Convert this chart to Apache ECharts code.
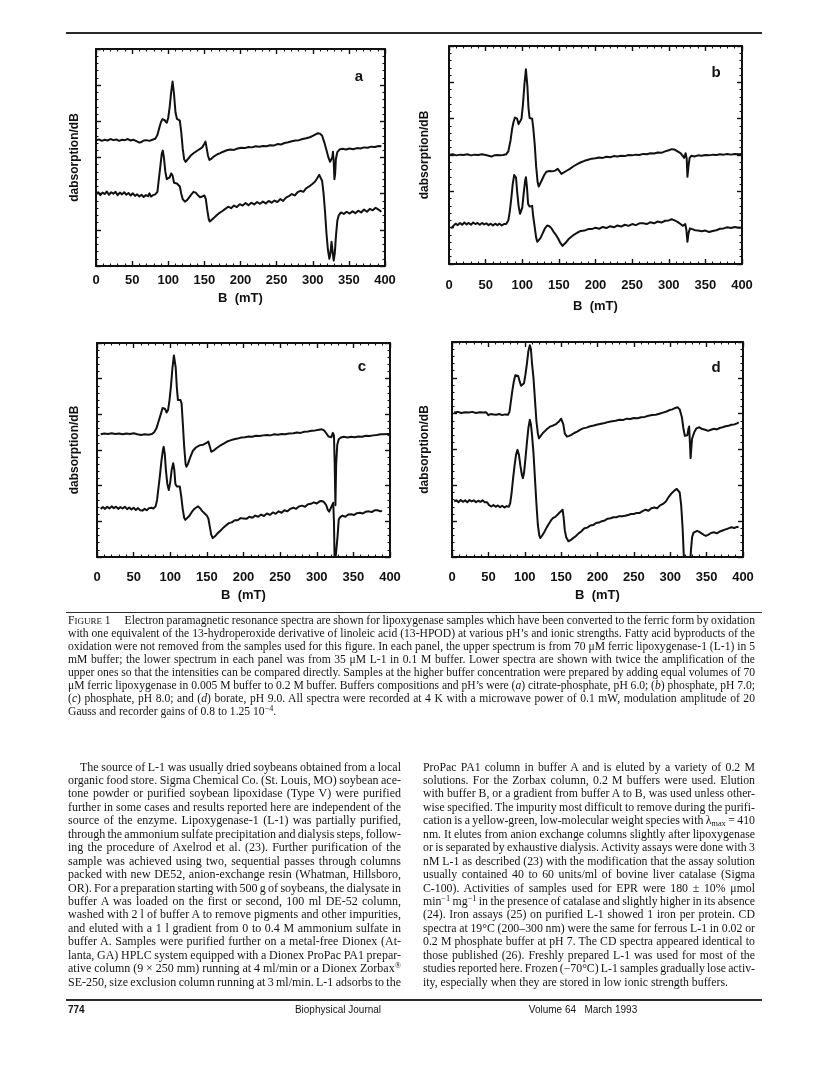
<!DOCTYPE html>
<html><head><meta charset="utf-8">
<script src="https://cdn.jsdelivr.net/npm/echarts/dist/echarts.min.js"></script>
<style>
html,body{margin:0;padding:0;background:#fff;}
#page{position:relative;width:816px;height:1076px;overflow:hidden;background:#fff;}
#chart{position:absolute;left:0;top:0;width:816px;height:1076px;}
.ln{position:absolute;white-space:pre;font-family:"Liberation Serif","Times New Roman",serif;color:#141414;line-height:16px;}
.ln sup{font-size:0.7em;vertical-align:0.45em;line-height:0;}
.ln sub{font-size:0.7em;vertical-align:-0.25em;line-height:0;}
.sc{font-size:0.78em;}
.gap{display:inline-block;width:14px;}
.rule{position:absolute;background:#2a2a2a;}
.ft{position:absolute;font-family:"Liberation Sans",Arial,sans-serif;font-size:10px;color:#141414;line-height:12px;white-space:pre;}
</style>
</head><body>
<div id="page"><div id="chart"></div></div>
<script>
// ---------------- DATA (B in mT, signal in arbitrary units, frame spans 0..6) ----------------
const xTicks = [0, 50, 100, 150, 200, 250, 300, 350, 400];

const aUpper = [[0,3.47],[4,3.50],[8,3.46],[12,3.49],[16,3.47],[20,3.51],[24,3.48],[28,3.50],[32,3.46],[36,3.49],[40,3.48],[44,3.51],[48,3.47],[52,3.49],[56,3.45],[60,3.41],[63,3.43],[66,3.47],[70,3.48],[74,3.46],[78,3.49],[82,3.52],[85,3.62],[88,3.85],[90,3.98],[92,4.06],[95,4.03],[98,3.96],[100,4.10],[102,4.40],[104,4.80],[106,5.10],[108,4.75],[110,4.25],[112,4.07],[114,4.10],[116,4.02],[118,3.70],[120,3.25],[122,2.95],[124,2.88],[126,2.92],[129,3.00],[132,3.07],[135,3.12],[138,3.16],[141,3.20],[144,3.24],[147,3.28],[150,3.38],[151.5,3.44],[153,3.28],[155,3.05],[157,2.93],[160,2.97],[164,3.04],[168,3.09],[172,3.12],[176,3.16],[181,3.20],[186,3.22],[191,3.21],[196,3.25],[201,3.27],[206,3.26],[211,3.29],[216,3.28],[221,3.31],[226,3.30],[231,3.32],[236,3.31],[241,3.34],[246,3.33],[251,3.37],[256,3.36],[261,3.40],[266,3.42],[271,3.45],[276,3.47],[281,3.48],[286,3.51],[291,3.53],[296,3.56],[300,3.60],[304,3.64],[307,3.67],[310,3.66],[313,3.60],[316,3.42],[319,3.20],[322,2.98],[324,2.88],[326,2.84],[327,3.00],[328,3.16],[329,2.90],[330,2.40],[331,2.55],[332,2.95],[334,3.15],[337,3.22],[341,3.24],[346,3.22],[351,3.25],[356,3.23],[361,3.26],[366,3.25],[371,3.28],[376,3.27],[381,3.30],[386,3.29],[391,3.32],[395,3.31]];

const aLower = [[0,1.98],[3,2.04],[6,1.96],[9,2.03],[12,1.99],[15,2.06],[18,1.97],[21,2.04],[24,2.00],[27,2.05],[30,1.96],[33,2.03],[36,1.98],[39,2.04],[42,1.97],[45,2.02],[48,1.95],[51,2.01],[54,1.94],[57,1.98],[60,1.92],[63,1.97],[66,1.91],[69,1.96],[72,1.93],[74,2.01],[76,1.92],[79,1.96],[82,1.98],[85,2.05],[87,2.40],[89,2.75],[91,3.10],[92.5,3.19],[94,3.00],[96,2.60],[98,2.40],[100,2.38],[102,2.45],[104,2.56],[106,2.50],[108,2.30],[110,2.25],[112,2.28],[114,2.30],[116,2.20],[118,2.00],[120,1.85],[123,1.78],[126,1.82],[129,1.90],[132,1.98],[135,2.05],[138,2.03],[141,1.96],[144,1.90],[147,1.92],[150,1.95],[152,1.85],[154,1.55],[156,1.30],[157.5,1.23],[160,1.27],[163,1.33],[167,1.40],[171,1.47],[175,1.52],[179,1.58],[183,1.64],[187,1.60],[191,1.67],[195,1.63],[199,1.71],[203,1.67],[207,1.74],[211,1.68],[215,1.75],[219,1.70],[223,1.77],[227,1.72],[231,1.78],[235,1.73],[239,1.80],[243,1.75],[247,1.81],[251,1.77],[255,1.85],[259,1.80],[263,1.89],[267,1.93],[271,1.99],[275,1.95],[279,2.04],[283,2.08],[287,2.05],[291,2.15],[295,2.20],[299,2.26],[303,2.33],[306,2.42],[309,2.52],[311,2.49],[313,2.35],[315,2.00],[317,1.50],[319,0.90],[321,0.45],[323,0.20],[324.5,0.35],[326,0.67],[327.5,0.40],[329,0.15],[330.5,0.35],[332,0.80],[334,1.25],[336,1.40],[339,1.48],[343,1.44],[347,1.50],[351,1.45],[355,1.51],[359,1.46],[363,1.53],[367,1.48],[371,1.56],[375,1.50],[379,1.58],[383,1.54],[387,1.61],[391,1.56],[395,1.50]];

const bUpper = [[0,3.00],[5,3.02],[10,2.99],[15,3.01],[20,3.00],[25,3.02],[30,2.99],[35,3.01],[40,3.00],[45,3.02],[50,3.00],[54,2.98],[58,2.96],[62,2.99],[66,3.00],[70,2.99],[74,3.00],[78,3.02],[81,3.10],[84,3.40],[86,3.70],[88,3.90],[90,4.03],[91.5,4.06],[93,4.00],[95,3.85],[97,3.80],[99,4.00],[101,4.40],[103,4.95],[105,5.36],[107,4.90],[108.5,4.30],[110,4.02],[112,4.05],[113.5,4.00],[115,3.75],[117,3.30],[119,2.68],[121,2.25],[122.5,2.13],[124,2.18],[127,2.32],[130,2.45],[133,2.54],[137,2.56],[141,2.55],[145,2.57],[148.5,2.62],[151,2.55],[153.5,2.48],[156,2.52],[160,2.56],[165,2.62],[170,2.69],[175,2.75],[180,2.80],[185,2.84],[190,2.87],[195,2.90],[200,2.91],[205,2.93],[210,2.92],[215,2.95],[220,2.94],[225,2.97],[230,2.96],[235,2.98],[240,2.97],[245,3.00],[250,2.99],[255,3.01],[260,3.00],[265,3.03],[270,3.02],[275,3.05],[280,3.04],[285,3.07],[290,3.06],[295,3.10],[300,3.13],[304,3.16],[308,3.15],[312,3.10],[316,3.05],[319,2.98],[321,2.92],[323,3.05],[324.5,2.90],[325.5,2.40],[327,2.70],[328.5,2.92],[331,2.98],[335,2.96],[340,2.99],[345,2.98],[350,3.00],[355,2.99],[360,3.01],[365,3.00],[370,3.02],[375,3.01],[380,3.03],[385,3.01],[390,3.03],[395,3.02],[400,3.03]];

const bLower = [[3,0.98],[6,1.05],[9,1.11],[12,1.07],[15,1.13],[18,1.08],[21,1.14],[24,1.09],[27,1.13],[30,1.08],[33,1.14],[36,1.10],[39,1.13],[42,1.08],[45,1.13],[48,1.09],[51,1.12],[54,1.07],[57,1.11],[60,1.06],[63,1.11],[66,1.07],[69,1.11],[72,1.06],[75,1.10],[78,1.10],[81,1.20],[83,1.45],[85,1.80],[87,2.20],[89,2.45],[90,2.50],[91.5,2.38],[93,2.00],[95,1.60],[97,1.38],[98.5,1.35],[100,1.55],[102,1.95],[104,2.30],[105,2.39],[106.5,2.10],[108,1.65],[110,1.58],[112,1.62],[113.5,1.60],[115,1.30],[117,1.02],[119,0.72],[120.5,0.61],[122,0.63],[125,0.72],[128,0.85],[131,0.98],[134,1.06],[137,1.04],[140,0.98],[143,0.88],[146,0.80],[149,0.70],[152,0.58],[155,0.50],[157,0.52],[160,0.60],[163,0.68],[167,0.75],[171,0.81],[175,0.86],[180,0.91],[185,0.92],[190,0.96],[195,0.96],[200,1.00],[205,0.97],[210,1.02],[215,0.99],[220,1.04],[225,1.01],[230,1.06],[235,1.03],[240,1.08],[245,1.05],[250,1.10],[255,1.07],[260,1.12],[265,1.12],[270,1.10],[275,1.15],[280,1.12],[285,1.17],[290,1.14],[295,1.19],[300,1.20],[304,1.23],[308,1.20],[312,1.16],[316,1.10],[319,1.05],[321,1.02],[322.5,1.10],[324,0.95],[325.5,0.61],[327,0.85],[329,0.98],[332,0.96],[336,0.93],[340,0.92],[345,0.90],[350,0.92],[355,0.88],[360,0.91],[365,0.93],[370,0.97],[375,0.98],[380,1.01],[385,0.99],[390,1.02],[395,1.00],[400,1.00]];

const cUpper = [[5,3.44],[10,3.46],[15,3.45],[20,3.47],[25,3.45],[30,3.46],[35,3.44],[40,3.46],[45,3.45],[50,3.47],[55,3.44],[60,3.42],[65,3.44],[70,3.43],[75,3.45],[78,3.50],[81,3.60],[84,3.80],[87,4.00],[89.5,4.18],[91,4.23],[93,4.15],[95,4.05],[97,4.12],[99,4.40],[101,4.80],[103,5.30],[105,5.65],[106,5.70],[107.5,5.30],[109,4.75],[110.5,4.40],[112,4.38],[114,4.40],[115.5,4.30],[117,3.80],[119,3.10],[121,2.60],[122,2.53],[124,2.60],[127,2.78],[131,2.98],[135,3.07],[140,3.13],[145,3.15],[149,3.19],[152,3.24],[154,3.10],[156,2.95],[159,2.98],[163,3.05],[168,3.12],[173,3.18],[177,3.23],[182,3.27],[187,3.30],[192,3.32],[197,3.35],[202,3.36],[207,3.38],[212,3.37],[217,3.40],[222,3.39],[227,3.41],[232,3.42],[237,3.41],[242,3.44],[247,3.43],[252,3.45],[257,3.44],[262,3.46],[268,3.47],[273,3.49],[278,3.48],[283,3.51],[288,3.52],[293,3.54],[298,3.55],[303,3.57],[307,3.58],[310,3.55],[313,3.47],[316,3.38],[318,3.33],[320,3.36],[322,3.48],[323.5,3.40],[324.5,2.60],[325.5,1.45],[326.5,2.60],[328,3.15],[330,3.30],[333,3.35],[337,3.37],[342,3.35],[347,3.37],[352,3.36],[357,3.38],[362,3.37],[367,3.40],[372,3.39],[377,3.41],[382,3.42],[387,3.44],[392,3.44],[397,3.45],[400,3.45]];

const cLower = [[5,1.35],[8,1.40],[11,1.35],[14,1.41],[17,1.36],[20,1.42],[23,1.37],[26,1.41],[29,1.35],[32,1.40],[35,1.36],[38,1.41],[41,1.34],[44,1.39],[47,1.33],[50,1.38],[53,1.32],[56,1.37],[59,1.31],[62,1.30],[65,1.35],[68,1.31],[71,1.37],[74,1.38],[77,1.36],[80,1.42],[82,1.60],[84,1.95],[86,2.30],[88,2.70],[90,3.00],[91,3.09],[92.5,2.90],[94,2.45],[96,2.05],[98,1.88],[100,2.10],[102,2.45],[104,2.63],[105.5,2.45],[107,2.05],[109,1.98],[111,2.00],[113,1.98],[115,1.70],[117,1.35],[119,1.10],[120.5,1.04],[123,1.06],[126,1.15],[129,1.25],[132,1.33],[135,1.38],[138,1.42],[141,1.36],[144,1.28],[147,1.22],[150,1.16],[152,1.08],[154,0.85],[156,0.62],[158,0.53],[161,0.58],[164,0.65],[168,0.73],[172,0.81],[176,0.88],[180,0.95],[184,0.97],[188,1.03],[192,1.03],[196,1.09],[200,1.08],[204,1.07],[208,1.13],[212,1.10],[216,1.16],[220,1.13],[224,1.19],[228,1.15],[232,1.22],[236,1.18],[240,1.25],[244,1.21],[248,1.28],[252,1.24],[256,1.31],[260,1.28],[264,1.35],[268,1.38],[272,1.35],[276,1.42],[280,1.44],[284,1.41],[288,1.48],[292,1.49],[296,1.53],[300,1.50],[304,1.56],[307,1.57],[310,1.54],[313,1.45],[315,1.33],[317,1.27],[319,1.30],[321,1.45],[322.5,1.52],[323.5,1.00],[324.5,-0.3],[327,-0.3],[328.5,0.60],[330,1.05],[332,1.12],[335,1.16],[339,1.13],[343,1.19],[347,1.20],[351,1.18],[355,1.23],[359,1.24],[363,1.22],[367,1.27],[371,1.28],[375,1.26],[379,1.31],[383,1.31],[387,1.28],[389,1.30]];

const dUpper = [[3,4.03],[8,4.05],[13,4.02],[18,4.04],[23,4.03],[28,4.05],[33,4.02],[38,4.04],[43,4.03],[47,4.04],[50,3.96],[53,3.99],[57,3.98],[61,3.97],[65,3.99],[69,3.96],[73,3.98],[77,3.97],[79,4.05],[81,4.35],[83,4.65],[85,4.90],[87,5.07],[89,5.11],[91,5.05],[93,4.90],[95,4.78],[97,4.75],[99,4.85],[101,5.10],[103,5.40],[105,5.75],[107,5.91],[108.5,5.80],[110,5.40],[112,5.00],[114,4.40],[116,3.80],[118,3.45],[119.5,3.31],[122,3.38],[125,3.46],[128,3.52],[131,3.58],[135,3.64],[139,3.67],[143,3.71],[147,3.78],[150,3.86],[151.5,3.89],[153,3.70],[155,3.45],[158,3.36],[161,3.38],[164,3.41],[168,3.46],[172,3.50],[176,3.55],[180,3.59],[185,3.61],[190,3.65],[195,3.67],[200,3.70],[205,3.72],[210,3.74],[215,3.77],[220,3.79],[225,3.80],[230,3.83],[235,3.82],[240,3.86],[245,3.85],[250,3.88],[255,3.87],[260,3.90],[265,3.91],[270,3.94],[275,3.96],[280,3.97],[285,4.00],[290,4.03],[295,4.06],[299,4.10],[303,4.12],[307,4.16],[310,4.18],[313,4.12],[316,3.90],[318,3.60],[320,3.38],[322,3.34],[323.5,3.40],[325,3.58],[326,3.64],[327,3.20],[328,2.76],[329,3.05],[330,3.30],[333,3.48],[336,3.59],[340,3.62],[344,3.57],[348,3.55],[352,3.52],[356,3.55],[360,3.58],[364,3.56],[368,3.60],[372,3.62],[376,3.65],[380,3.66],[384,3.69],[388,3.70],[392,3.73],[394,3.76]];

const dLower = [[3,1.55],[6,1.58],[9,1.53],[12,1.59],[15,1.54],[18,1.58],[21,1.53],[24,1.59],[27,1.55],[30,1.58],[33,1.53],[36,1.57],[39,1.54],[42,1.58],[45,1.53],[48,1.53],[51,1.45],[54,1.41],[57,1.45],[60,1.40],[63,1.44],[66,1.39],[69,1.43],[72,1.38],[75,1.42],[78,1.40],[80,1.50],[82,1.80],[84,2.20],[86,2.55],[88,2.85],[90,2.99],[92,2.85],[94,2.55],[96,2.30],[97.5,2.20],[99,2.35],[101,2.75],[103,3.20],[105,3.60],[107,3.83],[108.5,3.70],[110,3.40],[112,2.90],[114,2.20],[116,1.50],[118,0.90],[120,0.60],[121.5,0.53],[124,0.60],[127,0.70],[130,0.82],[133,0.92],[136,1.02],[139,1.09],[142,1.12],[145,1.18],[148,1.24],[150,1.28],[152,1.32],[153.5,1.10],[155,0.75],[157,0.55],[160,0.44],[163,0.47],[166,0.52],[170,0.58],[174,0.66],[178,0.72],[182,0.80],[186,0.82],[190,0.88],[194,0.89],[198,0.95],[202,0.96],[206,1.00],[210,1.02],[214,1.07],[218,1.08],[222,1.11],[226,1.11],[230,1.14],[234,1.14],[238,1.15],[242,1.17],[246,1.20],[250,1.20],[254,1.23],[258,1.23],[262,1.28],[266,1.32],[270,1.29],[274,1.36],[278,1.38],[282,1.36],[286,1.44],[290,1.48],[294,1.55],[298,1.68],[302,1.78],[306,1.86],[309,1.90],[311,1.92],[313,1.80],[315,1.45],[317,0.80],[318.5,0.10],[319.5,-0.3],[327,-0.3],[328.5,0.20],[330,0.55],[332,0.68],[334,0.71],[337,0.73],[340,0.70],[343,0.66],[346,0.62],[349,0.59],[352,0.62],[356,0.67],[360,0.69],[364,0.66],[368,0.71],[372,0.74],[376,0.77],[380,0.80],[384,0.83],[388,0.81],[392,0.84],[394,0.83]];

const panelLetters = ['a', 'b', 'c', 'd'];
const xAxisTitle = 'B  (mT)';
const yAxisTitle = 'dabsorption/dB';

// ---------------- TEXT ----------------
const captionLines = [
 'F<span class="sc">IGURE</span> 1<span class="gap"></span>Electron paramagnetic resonance spectra are shown for lipoxygenase samples which have been converted to the ferric form by oxidation',
 'with one equivalent of the 13-hydroperoxide derivative of linoleic acid (13-HPOD) at various pH\u2019s and ionic strengths. Fatty acid byproducts of the',
 'oxidation were not removed from the samples used for this figure. In each panel, the upper spectrum is from 70 \u03bcM ferric lipoxygenase-1 (L-1) in 5',
 'mM buffer; the lower spectrum in each panel was from 35 \u03bcM L-1 in 0.1 M buffer. Lower spectra are shown with twice the amplification of the',
 'upper ones so that the intensities can be compared directly. Samples at the higher buffer concentration were prepared by adding equal volumes of 70',
 '\u03bcM ferric lipoxygenase in 0.005 M buffer to 0.2 M buffer. Buffers compositions and pH\u2019s were (<i>a</i>) citrate-phosphate, pH 6.0; (<i>b</i>) phosphate, pH 7.0;',
 '(<i>c</i>) phosphate, pH 8.0; and (<i>d</i>) borate, pH 9.0. All spectra were recorded at 4 K with a microwave power of 0.1 mW, modulation amplitude of 20',
 'Gauss and recorder gains of 0.8 to 1.25 10<sup>\u22124</sup>.'
];
const leftColLines = [
 'The source of L-1 was usually dried soybeans obtained from a local',
 'organic food store. Sigma Chemical Co. (St. Louis, MO) soybean ace-',
 'tone powder or purified soybean lipoxidase (Type V) were purified',
 'further in some cases and results reported here are independent of the',
 'source of the enzyme. Lipoxygenase-1 (L-1) was partially purified,',
 'through the ammonium sulfate precipitation and dialysis steps, follow-',
 'ing the procedure of Axelrod et al. (23). Further purification of the',
 'sample was achieved using two, sequential passes through columns',
 'packed with new DE52, anion-exchange resin (Whatman, Hillsboro,',
 'OR). For a preparation starting with 500 g of soybeans, the dialysate in',
 'buffer A was loaded on the first or second, 100 ml DE-52 column,',
 'washed with 2 l of buffer A to remove pigments and other impurities,',
 'and eluted with a 1 l gradient from 0 to 0.4 M ammonium sulfate in',
 'buffer A. Samples were purified further on a metal-free Dionex (At-',
 'lanta, GA) HPLC system equipped with a Dionex ProPac PA1 prepar-',
 'ative column (9 \u00d7 250 mm) running at 4 ml/min or a Dionex Zorbax<sup>\u00ae</sup>',
 'SE-250, size exclusion column running at 3 ml/min. L-1 adsorbs to the'
];
const rightColLines = [
 'ProPac PA1 column in buffer A and is eluted by a variety of 0.2 M',
 'solutions. For the Zorbax column, 0.2 M buffers were used. Elution',
 'with buffer B, or a gradient from buffer A to B, was used unless other-',
 'wise specified. The impurity most difficult to remove during the purifi-',
 'cation is a yellow-green, low-molecular weight species with \u03bb<sub>max</sub> = 410',
 'nm. It elutes from anion exchange columns slightly after lipoxygenase',
 'or is separated by exhaustive dialysis. Activity assays were done with 3',
 'nM L-1 as described (23) with the modification that the assay solution',
 'usually contained 40 to 60 units/ml of bovine liver catalase (Sigma',
 'C-100). Activities of samples used for EPR were 180 \u00b1 10% \u03bcmol',
 'min<sup>\u22121</sup> mg<sup>\u22121</sup> in the presence of catalase and slightly higher in its absence',
 '(24). Iron assays (25) on purified L-1 showed 1 iron per protein. CD',
 'spectra at 19\u00b0C (200\u2013300 nm) were the same for ferrous L-1 in 0.02 or',
 '0.2 M phosphate buffer at pH 7. The CD spectra appeared identical to',
 'those published (26). Freshly prepared L-1 was used for most of the',
 'studies reported here. Frozen (\u221270\u00b0C) L-1 samples gradually lose activ-',
 'ity, especially when they are stored in low ionic strength buffers.'
];
const footerPage = '774';
const footerJournal = 'Biophysical Journal';
const footerIssue = 'Volume 64   March 1993';

// ---------------- LAYOUT ----------------
const layout = [
 {grid:{left:96,top:49,width:289,height:217}, labelMargin:7.5, xNameGap:25.5, yNameGap:15, letter:[359,77]},
 {grid:{left:449,top:46,width:293,height:218}, labelMargin:14.5, xNameGap:36, yNameGap:18, letter:[716,73]},
 {grid:{left:97,top:343,width:293,height:214}, labelMargin:13.5, xNameGap:31.5, yNameGap:16, letter:[362,367]},
 {grid:{left:452,top:342,width:291,height:215}, labelMargin:13.5, xNameGap:31.5, yNameGap:21, letter:[716,368]}
];
const spectra = [[aUpper,aLower],[bUpper,bLower],[cUpper,cLower],[dUpper,dLower]];

const INK = '#111';
const grids = [], xAxes = [], yAxes = [], series = [], graphics = [];
const tickCommon = {
  axisLine:{show:true,onZero:false,lineStyle:{color:INK,width:2}},
  axisTick:{show:true,inside:true,length:5,lineStyle:{color:INK,width:1.4}},
  minorTick:{show:true,splitNumber:5,length:2.5,lineStyle:{color:INK,width:1.1}},
  splitLine:{show:false}, minorSplitLine:{show:false}
};
const clone = o => JSON.parse(JSON.stringify(o));
layout.forEach((L,i)=>{
  grids.push(Object.assign({containLabel:false}, L.grid));
  const xMin = xTicks[0], xMax = xTicks[xTicks.length-1], xInt = xTicks[1]-xTicks[0];
  xAxes.push(Object.assign({type:'value',gridIndex:i,position:'bottom',min:xMin,max:xMax,interval:xInt,
    axisLabel:{show:true,margin:L.labelMargin,color:INK,fontFamily:'Liberation Sans, Arial, sans-serif',fontWeight:'bold',fontSize:13,showMinLabel:true,showMaxLabel:true},
    name:xAxisTitle,nameLocation:'middle',nameGap:L.xNameGap,
    nameTextStyle:{color:INK,fontFamily:'Liberation Sans, Arial, sans-serif',fontWeight:'bold',fontSize:13}}, clone(tickCommon)));
  xAxes.push(Object.assign({type:'value',gridIndex:i,position:'top',min:xMin,max:xMax,interval:xInt,axisLabel:{show:false}}, clone(tickCommon)));
  yAxes.push(Object.assign({type:'value',gridIndex:i,position:'left',min:0,max:6,interval:1,axisLabel:{show:false},
    name:yAxisTitle,nameLocation:'middle',nameGap:L.yNameGap,nameRotate:90,
    nameTextStyle:{color:INK,fontFamily:'Liberation Sans, Arial, sans-serif',fontWeight:'bold',fontSize:12}}, clone(tickCommon)));
  yAxes.push(Object.assign({type:'value',gridIndex:i,position:'right',min:0,max:6,interval:1,axisLabel:{show:false}}, clone(tickCommon)));
  spectra[i].forEach(tr=>{
    series.push({type:'line',xAxisIndex:2*i,yAxisIndex:2*i,data:tr,showSymbol:false,symbol:'none',clip:true,
      lineStyle:{color:INK,width:2,join:'round'},silent:true});
  });
  graphics.push({type:'text',x:L.letter[0],y:L.letter[1],style:{text:panelLetters[i],fill:INK,
    font:'bold 15px "Liberation Sans", Arial, sans-serif',textAlign:'center',textVerticalAlign:'middle',align:'center',verticalAlign:'middle'}});
});

const chart = echarts.init(document.getElementById('chart'), null, {renderer:'canvas'});
chart.setOption({animation:false,backgroundColor:'#fff',grid:grids,xAxis:xAxes,yAxis:yAxes,series:series,graphic:graphics});

// ---------------- PAGE TEXT ----------------
const page = document.getElementById('page');
function rule(x,y,w,h){const d=document.createElement('div');d.className='rule';d.style.left=x+'px';d.style.top=y+'px';d.style.width=w+'px';d.style.height=h+'px';page.appendChild(d);}
rule(66,32,696,1.6);
rule(66,611.5,696,1.2);
rule(66,999,696,1.6);

// justified block: font size chosen so that lines sit at natural spacing, then word-spacing fills the measure
function placeLines(lines,x,y0,dy,width,lastIdx,indent){
  const divs = lines.map((t,i)=>{
    const d=document.createElement('div');d.className='ln';
    const ind=(i===0?indent:0);
    d.style.left=(x+ind)+'px';d.style.top=(y0+i*dy-8)+'px';d.style.fontSize='10px';
    d.innerHTML=t;page.appendChild(d);return d;
  });
  const ratios=[];
  divs.forEach((d,i)=>{ if(i!==lastIdx){ const ind=(i===0?indent:0); ratios.push((width-ind)/d.getBoundingClientRect().width); } });
  ratios.sort((a,b)=>a-b);
  let fs = 10*ratios[Math.floor(ratios.length/2)];
  fs = Math.max(9.5, Math.min(12, fs));
  divs.forEach((d,i)=>{
    d.style.fontSize=fs+'px';
    if(i!==lastIdx){
      const ind=(i===0?indent:0);
      const nat=d.getBoundingClientRect().width;
      const n=(d.textContent.match(/[ \u00a0]/g)||[]).length;
      if(n>0) d.style.wordSpacing=((width-ind-nat)/n)+'px';
    }
  });
}
placeLines(captionLines,68,620.5,13.1,687,captionLines.length-1,0);
placeLines(leftColLines,68,766.5,13.45,333,-1,12);
placeLines(rightColLines,423,766.5,13.45,332,rightColLines.length-1,0);

function ft(text,x,y,align,bold){const d=document.createElement('div');d.className='ft';d.textContent=text;
  if(bold)d.style.fontWeight='bold';page.appendChild(d);const w=d.getBoundingClientRect().width;
  d.style.left=(align==='center'?x-w/2:x)+'px';d.style.top=(y-6)+'px';}
ft(footerPage,68,1010,'left',true);
ft(footerJournal,338,1010,'center',false);
ft(footerIssue,583,1010,'center',false);
</script>
</body></html>
